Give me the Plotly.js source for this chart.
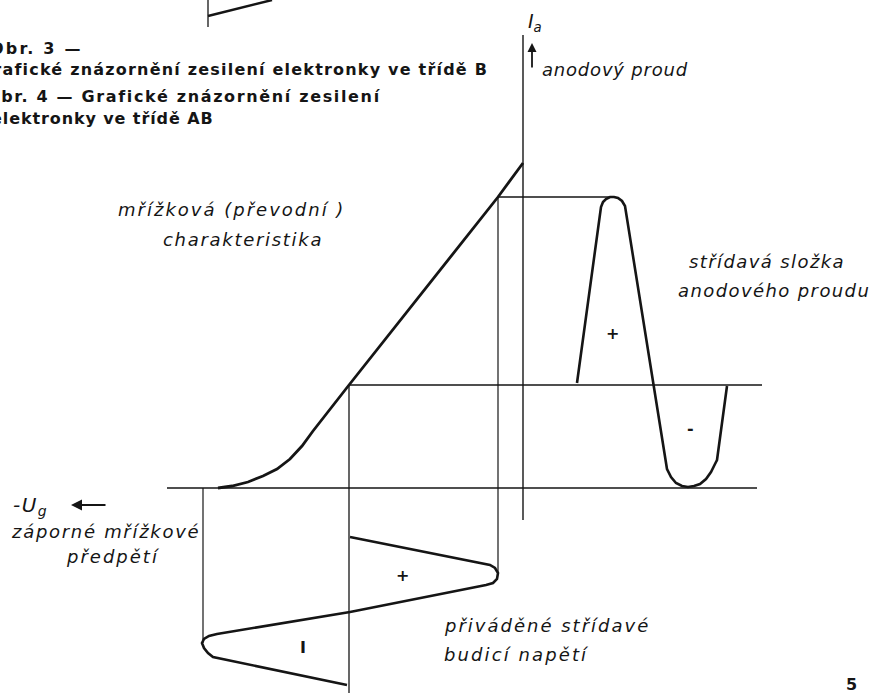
<!DOCTYPE html>
<html>
<head>
<meta charset="utf-8">
<script src="https://cdn.plot.ly/plotly-3.0.1.min.js"></script>
<style>html,body{margin:0;padding:0;background:#fff;}#chart{width:877px;height:693px;}</style>
</head>
<body>
<div id="chart"></div>
<script>
// Diagram coordinates (x to the right, y downward)
// Grid (transfer) characteristic Ia = f(Ug)
const charX = [218, 232, 248, 263, 277, 290, 302, 313, 349, 498, 523];
const charY = [488, 486, 482, 476, 469, 459, 446, 431, 385, 197, 163];

// Anode current alternating component (+ lobe, - lobe)
const anodeX = [577, 601, 603, 606, 610, 614, 618, 622, 625, 665, 667, 671, 676, 682, 688, 694, 700, 706, 711, 715, 717, 727];
const anodeY = [383, 207, 202, 199, 197, 197, 198, 201, 206, 460, 469, 477, 483, 486, 487, 486, 484, 479, 472, 464, 460, 386];

// Applied alternating grid drive voltage (+ lobe, - lobe)
const gridX = [350, 483, 490, 495, 498, 497, 493, 486, 350, 217, 209, 204, 202, 204, 208, 213, 347];
const gridY = [537, 563, 565, 568, 573, 579, 583, 585, 612, 634, 636, 639, 643, 648, 653, 657, 685];

// Construction lines
const axisIaX = [523, 523], axisIaY = [35, 520];
const baseX = [167, 757], baseY = [488, 488];
const midX = [349, 762], midY = [385, 385];
const topX = [498, 613], topY = [197, 197];
const v498X = [498, 498], v498Y = [197, 573];
const v349X = [349, 349], v349Y = [385, 693];
const v203X = [203, 203], v203Y = [488, 643];
const stub1X = [208, 208], stub1Y = [0, 27];
const stub2X = [208, 272], stub2Y = [16, 0];

// Text labels
const captionLines = [
  {t: 'Obr. 3 —', x: -12, y: 48, ls: 2.2},
  {t: 'Grafické znázornění zesilení elektronky ve třídě B', x: -23, y: 69, ls: 1.2},
  {t: 'Obr. 4 — Grafické znázornění zesilení', x: -16, y: 96, ls: 1.65},
  {t: 'elektronky ve třídě AB', x: -11, y: 118, ls: 0.9}
];
const italicLabels = [
  {t: 'anodový proud', x: 540, y: 69, ls: 0.8},
  {t: 'mřížková (převodní )', x: 116, y: 209, ls: 2.0},
  {t: 'charakteristika', x: 161, y: 239, ls: 1.7},
  {t: 'střídavá složka', x: 687, y: 261, ls: 1.4},
  {t: 'anodového proudu', x: 676, y: 290, ls: 1.4},
  {t: 'záporné mřížkové', x: 9, y: 531, ls: 1.7},
  {t: 'předpětí', x: 64, y: 556, ls: 2.0},
  {t: 'přiváděné střídavé', x: 442, y: 625, ls: 2.0},
  {t: 'budicí napětí', x: 442, y: 654, ls: 2.1}
];
const signLabels = [
  {t: '+', x: 612, y: 333},
  {t: '-', x: 690, y: 428},
  {t: '+', x: 402, y: 575},
  {t: 'I', x: 303, y: 647}
];

const ink = '#151515';
function ln(x, y, w) {
  return {x: x, y: y, mode: 'lines', type: 'scatter', hoverinfo: 'skip',
          line: {color: ink, width: w}, showlegend: false};
}
const traces = [
  ln(stub1X, stub1Y, 1.3), ln(stub2X, stub2Y, 2.4),
  ln(axisIaX, axisIaY, 1.4), ln(baseX, baseY, 1.3), ln(midX, midY, 1.3), ln(topX, topY, 1.3),
  ln(v498X, v498Y, 1.2), ln(v349X, v349Y, 1.3), ln(v203X, v203Y, 1.2),
  ln(charX, charY, 2.8), ln(anodeX, anodeY, 2.6), ln(gridX, gridY, 2.6)
];

const annotations = [];
const spacing = [];
captionLines.forEach(c => {
  annotations.push({
    x: c.x / 877, y: c.y, xref: 'paper', yref: 'y', text: '<b>' + c.t + '</b>', showarrow: false,
    xanchor: 'left', yanchor: 'middle', font: {family: 'DejaVu Sans', size: 16, color: ink}
  });
  spacing.push(c.ls);
});
italicLabels.forEach(c => {
  annotations.push({
    x: c.x, y: c.y, xref: 'x', yref: 'y', text: '<i>' + c.t + '</i>', showarrow: false,
    xanchor: 'left', yanchor: 'middle', font: {family: 'DejaVu Sans', size: 18, color: ink}
  });
  spacing.push(c.ls);
});
signLabels.forEach(c => {
  annotations.push({
    x: c.x, y: c.y, xref: 'x', yref: 'y', text: '<b>' + c.t + '</b>', showarrow: false,
    xanchor: 'center', yanchor: 'middle', font: {family: 'DejaVu Sans', size: 16, color: ink}
  });
  spacing.push(0);
});
annotations.push({x: 526, y: 22, xref: 'x', yref: 'y', text: '<i>I<sub>a</sub></i>', showarrow: false,
  xanchor: 'left', yanchor: 'middle', font: {family: 'DejaVu Sans', size: 19, color: ink}});
spacing.push(0);
annotations.push({x: 11, y: 506, xref: 'x', yref: 'y', text: '<i>-U<sub>g</sub></i>', showarrow: false,
  xanchor: 'left', yanchor: 'middle', font: {family: 'DejaVu Sans', size: 20, color: ink}});
spacing.push(1.5);
annotations.push({x: 851, y: 684, xref: 'x', yref: 'y', text: '<b>5</b>', showarrow: false,
  xanchor: 'center', yanchor: 'middle', font: {family: 'DejaVu Sans', size: 16, color: ink}});
spacing.push(0);
// arrows
annotations.push({x: 71, y: 505, ax: 107, ay: 505, xref: 'x', yref: 'y', axref: 'x', ayref: 'y',
  text: '', showarrow: true, arrowhead: 2, arrowsize: 1.1, arrowwidth: 2, arrowcolor: ink});
spacing.push(0);
annotations.push({x: 532, y: 43, ax: 532, ay: 69, xref: 'x', yref: 'y', axref: 'x', ayref: 'y',
  text: '', showarrow: true, arrowhead: 2, arrowsize: 1, arrowwidth: 1.8, arrowcolor: ink});
spacing.push(0);

const layout = {
  width: 877, height: 693,
  margin: {l: 0, r: 0, t: 0, b: 0, pad: 0},
  paper_bgcolor: '#ffffff', plot_bgcolor: '#ffffff',
  xaxis: {range: [0, 877], visible: false, showgrid: false, zeroline: false, fixedrange: true},
  yaxis: {range: [693, 0], visible: false, showgrid: false, zeroline: false, fixedrange: true},
  annotations: annotations,
  showlegend: false
};
Plotly.newPlot('chart', traces, layout, {displayModeBar: false, staticPlot: true}).then(() => {
  // widen the lettering like the original stencil text, keeping each label's left edge fixed
  document.querySelectorAll('#chart .annotation').forEach(g => {
    const i = +g.getAttribute('data-index');
    const s = spacing[i];
    if (!s) return;
    const t = g.querySelector('.annotation-text');
    if (!t) return;
    const x0 = t.getBBox().x;
    t.style.letterSpacing = s + 'px';
    const dx = x0 - t.getBBox().x;
    const tr = t.getAttribute('transform') || '';
    t.setAttribute('transform', tr + ' translate(' + dx + ',0)');
  });
});
</script>
</body>
</html>
